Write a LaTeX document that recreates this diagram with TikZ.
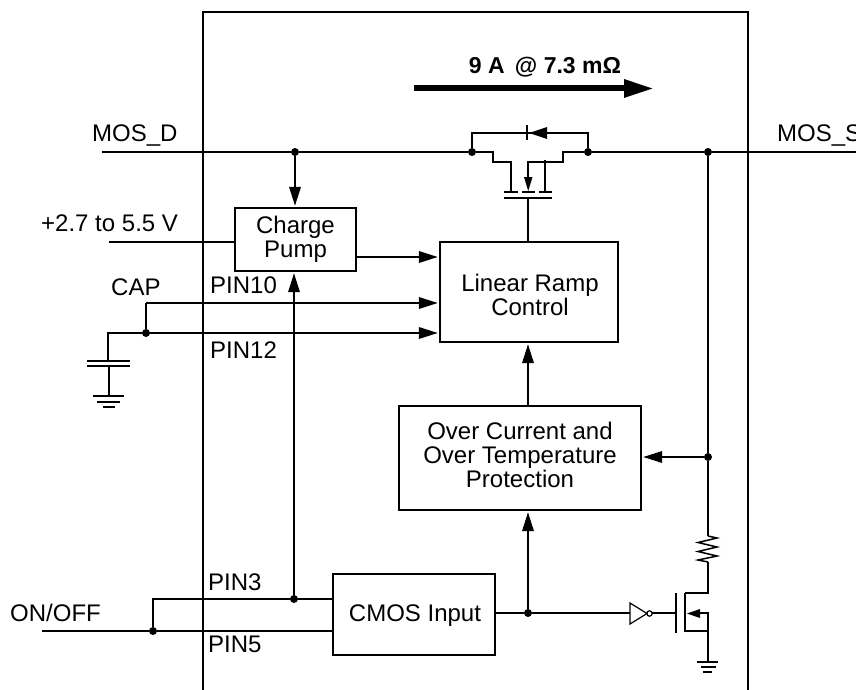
\documentclass[tikz,border=0pt]{standalone}
\usepackage{fontspec}
\setmainfont{Liberation Sans}
\usetikzlibrary{arrows.meta,calc}
\tikzset{
  wire/.style={line width=2pt},
  flow/.style={wire,shorten >=1.2pt,-{Triangle[length=19pt,width=11.5pt]}},
  blockbox/.style={draw,line width=2pt,inner sep=0pt},
  blocktext/.style={font=\fontsize{24}{24}\selectfont,align=center,inner sep=0pt},
  lbl/.style={font=\fontsize{24}{24}\selectfont,inner sep=0pt,anchor=base west},
  dotnode/.style={circle,fill=black,inner sep=0pt,minimum size=8pt},
}
\begin{document}
\begin{tikzpicture}[x=1pt,y=-1pt]
\useasboundingbox (0,0) rectangle (856,690);
% chip outline
\coordinate (cbl) at (203,690);
\coordinate (ctl) at (203,12);
\coordinate (ctr) at (748,12);
\coordinate (cbr) at (748,690);
\draw[wire] (cbl) -- (ctl) -- (ctr) -- (cbr);
% blocks
\node[blockbox,minimum width=121pt,minimum height=63pt] (cp) at (295.5,239.5) {};
\node[blocktext] (cpt) at (295.5,239.5) {Charge\\Pump};
\node[blockbox,minimum width=178pt,minimum height=100pt] (lr) at (529,292) {};
\node[blocktext] (lrt) at (530,295) {Linear Ramp\\Control};
\node[blockbox,minimum width=242pt,minimum height=104pt] (oc) at (520,458) {};
\node[blocktext] (oct) at (520,455) {Over Current and\\Over Temperature\\Protection};
\node[blockbox,minimum width=162pt,minimum height=81pt] (cm) at (414,614.5) {};
\node[blocktext] (cmt) at (415,616) {CMOS Input};
% labels
\node[lbl] (tMD) at (92,142) {MOS\_D};
\node[lbl] (tMS) at (777,142) {MOS\_S};
\node[lbl] (tV) at (41,231) {+2.7 to 5.5 V};
\node[lbl] (tCAP) at (111,295) {CAP};
\node[lbl] (tP10) at (210,293) {PIN10};
\node[lbl] (tP12) at (210,358) {PIN12};
\node[lbl] (tP3) at (208,590) {PIN3};
\node[lbl] (tP5) at (208,652) {PIN5};
\node[lbl] (tOO) at (10,621) {ON/OFF};
\node[font=\bfseries\fontsize{23}{24}\selectfont,inner sep=0pt,anchor=base] (tI) at (545,74) {9 A \,@ 7.3 mΩ};
% current arrow
\coordinate (ia) at (414,88.5); \coordinate (ib) at (654,88.5);
\draw[line width=6pt,-{Triangle[length=30pt,width=17pt]}] (ia) -- (ib);
% main line
\coordinate (mdL) at (102,152);
\node[dotnode] (n1) at (295,152) {};
\node[dotnode] (n2) at (472,152) {};
\node[dotnode] (n3) at (588,152) {};
\node[dotnode] (n4) at (708,152) {};
\coordinate (msR) at (856,152);
\draw[wire] (mdL) -- (n1) -- (n2);
\draw[wire] (n3) -- (n4) -- (msR);
\draw[flow] (n1) -- (n1 |- cp.north);
% MOSFET top
\coordinate (dl) at (472,133); \coordinate (dr) at (588,133);
\draw[wire] (n2) -- (dl) -- (dr) -- (n3);
\draw[wire] (527,125) -- (527,140);
\fill (529,133) -- (547,127) -- (547,139) -- cycle;
\coordinate (a1) at (493,152); \coordinate (a2) at (493,162); \coordinate (a3) at (511,162); \coordinate (a4) at (511,191);
\draw[wire] (n2) -- (a1) -- (a2) -- (a3) -- (a4);
\coordinate (b1) at (563,152); \coordinate (b2) at (563,162); \coordinate (b3) at (528,162); \coordinate (b4) at (528,178);
\draw[wire] (n3) -- (b1) -- (b2) -- (b3) -- (b4);
\fill (524,177) -- (532.5,177) -- (528.2,191) -- cycle;
\coordinate (c1) at (545,160); \coordinate (c2) at (545,191);
\draw[wire] (c1) -- (c2);
\draw[wire] (504,192) -- (518,192) (522,192) -- (535,192) (539,192) -- (552,192);
\draw[wire] (504,198) -- (552,198);
\coordinate (g1) at (528,198);
\draw[wire] (g1) -- (g1 |- lr.north);
% +2.7
\coordinate (vl) at (109,242);
\draw[wire] (vl) -- (vl -| cp.west);
% charge pump to ramp
\coordinate (cpo) at (356,257);
\draw[flow] (cpo) -- (cpo -| lr.west);
% CAP
\node[dotnode] (n5) at (146,333) {};
\coordinate (cu) at (146,303);
\coordinate (cl) at (108,333);
\coordinate (clb) at (108,361);
\draw[wire] (n5) -- (cu);
\draw[flow] (cu) -- (cu -| lr.west);
\draw[wire] (clb) -- (cl) -- (n5);
\draw[flow] (n5) -- (n5 -| lr.west);
\draw[wire] (87,361) -- (130,361) (87,366) -- (130,366);
\coordinate (cgt) at (109,366); \coordinate (cgb) at (109,396);
\draw[wire] (cgt) -- (cgb);
\draw[wire] (93,396) -- (124,396) (97,402) -- (120,402) (103,407) -- (115,407);
% on/off
\coordinate (ool) at (42,631);
\node[dotnode] (n6) at (153,631) {};
\coordinate (ou) at (152,599);
\node[dotnode] (n7) at (294,599) {};
\draw[wire] (ool) -- (n6) -- (n6 -| cm.west);
\draw[wire] (n6) -- (n6 |- ou) -- (n7) -- (n7 -| cm.west);
\draw[flow] (n7) -- (n7 |- cp.south);
% cmos out
\coordinate (cmo) at (495,613);
\node[dotnode] (n8) at (528,613) {};
\coordinate (invb) at (630,613);
\draw[wire] (cmo) -- (n8) -- (invb);
\draw[flow] (n8) -- (n8 |- oc.south);
% oc to ramp
\coordinate (oct2) at (528,406);
\draw[flow] (oct2) -- (oct2 |- lr.south);
% sense
\node[dotnode] (n9) at (708,457) {};
\draw[flow] (n9) -- (n9 -| oc.east);
\coordinate (rt) at (708,536); \coordinate (rb) at (708,562);
\draw[wire] (n4) -- (n9) -- (rt);
\draw[line width=1.5pt,line join=miter] (rt) -- (717,538) -- (698,542.5) -- (717,547) -- (698,551.5) -- (717,556) -- (698,560) -- (rb);
% inverter
\draw[line width=1.2pt] (630,603) -- (630,624) -- (647,613.5) -- cycle;
\draw[line width=1.2pt] (649.5,613.5) circle (2.7pt);
\coordinate (gs) at (652,613); \coordinate (gb) at (676,613);
\draw[wire] (gs) -- (gb);
% low side fet
\draw[line width=2.4pt] (676,593) -- (676,633);
\draw[line width=2.4pt] (685,593) -- (685,632);
\coordinate (q1) at (708,593); \coordinate (q2) at (685,593);
\draw[wire] (rb) -- (q1) -- (q2);
\coordinate (q3) at (685,631); \coordinate (q4) at (708,631);
\coordinate (q5) at (708,613); \coordinate (q6) at (698,613);
\draw[wire] (q3) -- (q4);
\draw[wire] (q6) -- (q5) -- (708,661);
\fill (687,613.5) -- (700,609) -- (700,618) -- cycle;
\draw[wire] (697,662) -- (718,662) (701,667) -- (716,667) (703,672) -- (712,672);
\end{tikzpicture}
\end{document}
